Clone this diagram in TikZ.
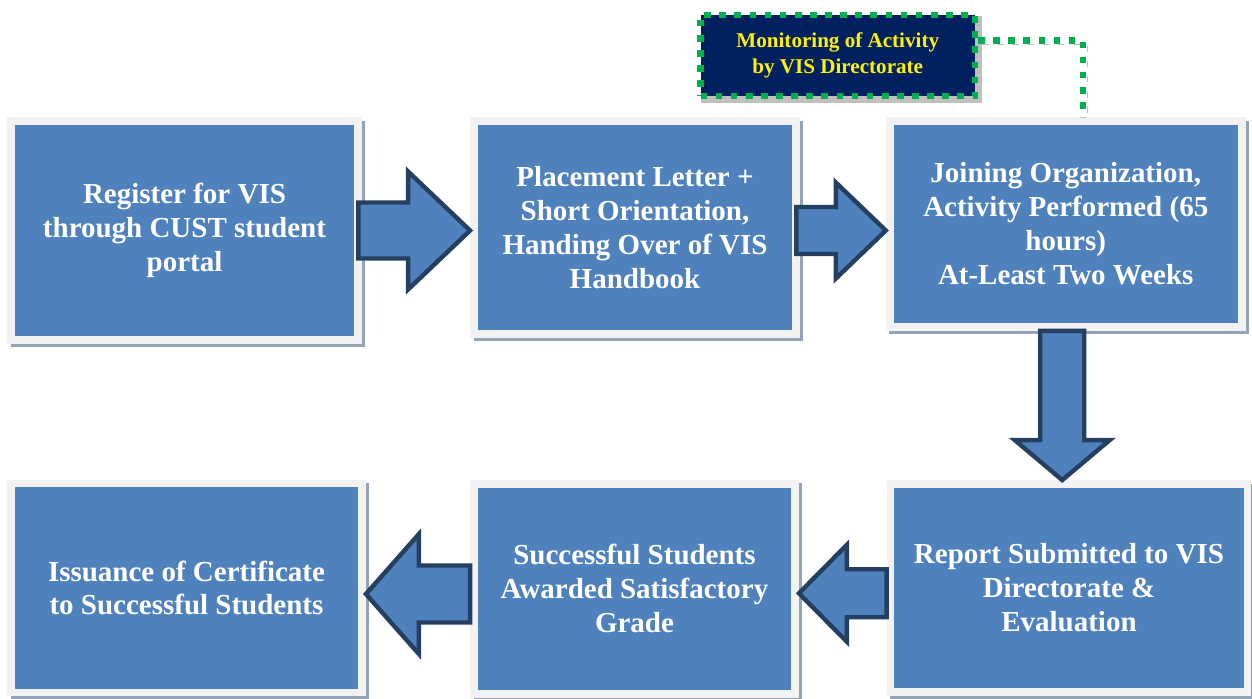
\documentclass[tikz,border=0pt]{standalone}
\usepackage{fontspec}
\setmainfont{Liberation Serif}
\usetikzlibrary{calc,shadows}

\definecolor{boxblue}{HTML}{4F81BD}
\definecolor{boxframe}{HTML}{F2F2F2}
\definecolor{boxshade}{HTML}{95A3B8}
\definecolor{arrowedge}{HTML}{243F60}
\definecolor{monnavy}{HTML}{002060}
\definecolor{mongreen}{HTML}{00B050}
\definecolor{monshade}{HTML}{BFBFBF}

\tikzset{
  stepbox/.style={draw=boxframe, fill=boxblue, line width=4.5pt, text=white,
    font=\fontsize{16.5}{19.3}\selectfont\bfseries, align=center, inner sep=0pt,
    general shadow={draw=boxshade, fill=boxshade, line width=4.5pt,
      shadow xshift=2pt, shadow yshift=-2pt}},
  monbox/.style={draw=mongreen, fill=monnavy, line width=3.6pt,
    dash pattern=on 3.8pt off 4.8pt, text=yellow,
    font=\fontsize{12}{14.7}\selectfont\bfseries, align=center, inner sep=0pt,
    general shadow={solid, draw=monshade, fill=monshade, line width=3.6pt,
      shadow xshift=2.3pt, shadow yshift=-2.3pt}},
  monline/.style={draw=mongreen, line width=3.6pt, dash pattern=on 3.8pt off 4.8pt,
    preaction={draw=monshade, dash pattern=on 3.8pt off 4.8pt,
      transform canvas={shift={(2.3pt,-2.3pt)}}}},
  arrowline/.style={draw=arrowedge, fill=boxblue, line width=2.5pt}
}

% block arrow: start, tip, tail half width, head half width, head length
\newcommand{\blockarrow}[5]{%
  \coordinate (ba-h) at ($(#2)!#5!(#1)$);
  \draw[arrowline] ($(#1)!#3!90:(#2)$) -- ($(ba-h)!#3!90:(#2)$)
    -- ($(ba-h)!#4!90:(#2)$) -- (#2) -- ($(ba-h)!#4!-90:(#2)$)
    -- ($(ba-h)!#3!-90:(#2)$) -- ($(#1)!#3!-90:(#2)$) -- cycle;
}

\begin{document}
\begin{tikzpicture}[x=0.02cm, y=-0.02cm]
  \useasboundingbox (0,0) rectangle (1252,698);

  % Top row of steps
  \node[stepbox, minimum width=6.94cm, minimum height=4.38cm] (reg) at (184.5,230.5)
    {Register for VIS\\through CUST student\\portal};
  \node[stepbox, minimum width=6.44cm, minimum height=4.26cm] (place) at (635,227.5)
    {Placement Letter +\\Short Orientation,\\Handing Over of VIS\\Handbook};
  \node[stepbox, minimum width=7.04cm, minimum height=4.12cm] (join) at (1065.75,224)
    {Joining Organization,\\Activity Performed (65\\hours)\\At-Least Two Weeks};

  % Bottom row of steps
  \node[stepbox, minimum width=7.14cm, minimum height=4.16cm] (report) at (1069,588)
    {Report Submitted to VIS\\Directorate \&\\Evaluation};
  \node[stepbox, minimum width=6.42cm, minimum height=4.2cm] (awarded) at (634.5,588.75)
    {Successful Students\\Awarded Satisfactory\\Grade};
  \node[stepbox, minimum width=7.02cm, minimum height=4.18cm] (issue) at (186.5,588)
    {Issuance of Certificate\\to Successful Students};

  % Monitoring box
  \node[monbox, minimum width=5.49cm, minimum height=1.62cm] (mon) at (837.75,55.5)
    {Monitoring of Activity\\by VIS Directorate};
  \coordinate (monout) at ([yshift=8.5pt]mon.east);
  \coordinate (joinin) at ([xshift=9.8pt]join.north);
  \draw[monline] (monout) -| (joinin);

  % Arrows
  \coordinate (a1s) at ([xshift=-2pt]reg.east);
  \coordinate (a1e) at (reg.east -| place.west);
  \blockarrow{a1s}{a1e}{0.56cm}{1.18cm}{1.24cm}
  \coordinate (a2s) at ([xshift=-2pt]place.east |- reg.east);
  \coordinate (a2e) at (join.west |- reg.east);
  \blockarrow{a2s}{a2e}{0.47cm}{0.96cm}{1.0cm}
  \coordinate (a3s) at ([xshift=-2pt]join.south);
  \coordinate (a3e) at (a3s |- report.north);
  \blockarrow{a3s}{a3e}{0.44cm}{0.95cm}{0.8cm}
  \coordinate (a4s) at ([yshift=-3pt]report.west);
  \coordinate (a4e) at (a4s -| awarded.east);
  \blockarrow{a4s}{a4e}{0.48cm}{0.97cm}{0.96cm}
  \coordinate (a5s) at ([yshift=-3pt]awarded.west);
  \coordinate (a5e) at (a5s -| issue.east);
  \blockarrow{a5s}{a5e}{0.57cm}{1.2cm}{1.06cm}
\end{tikzpicture}
\end{document}
